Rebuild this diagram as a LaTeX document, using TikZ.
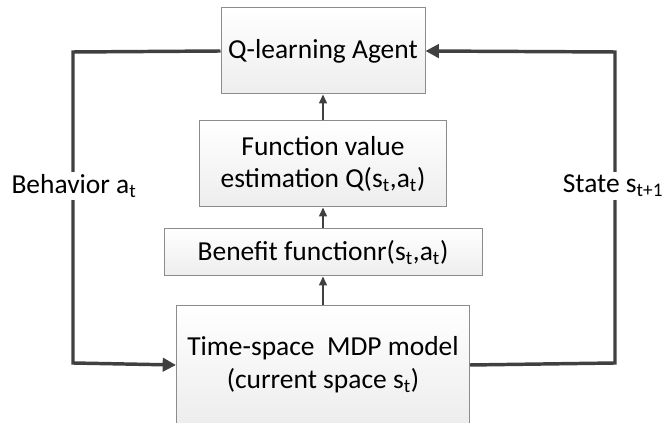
\documentclass[tikz,border=0pt]{standalone}
\usepackage{fontspec}
\setmainfont{Carlito}
\usetikzlibrary{arrows.meta, positioning}

\definecolor{linegray}{HTML}{404040}
\definecolor{boxgray}{HTML}{8C8C8C}

\begin{document}
\begin{tikzpicture}[
  x=0.75pt, y=-0.75pt,
  font=\fontsize{20.6}{24.5}\selectfont,
  block/.style={draw=boxgray, line width=0.75pt, top color=white, bottom color=black!7,
    align=center, inner sep=0pt},
  flow/.style={draw=linegray, line width=1.1pt, -{Triangle[length=6.75pt,width=6pt]}},
  loop/.style={draw=linegray, line width=2.6pt, -{Triangle[length=10pt,width=10pt]}},
  tag/.style={fill=white, inner sep=2pt}]

  \useasboundingbox (0,0) rectangle (662,423);

  % boxes, stacked from the top
  \node[block, minimum width=153pt, minimum height=64.5pt] (agent) at (323,51) {Q-learning Agent};
  \node[block, minimum width=185.25pt, minimum height=64.5pt, below=19.5pt of agent] (estim)
    {Function value\\estimation Q(s\textsubscript{t},a\textsubscript{t})};
  \node[block, minimum width=238.5pt, minimum height=35.25pt, below=15.75pt of estim] (benefit)
    {Benefit functionr(s\textsubscript{t},a\textsubscript{t})};
  \node[block, minimum width=219.75pt, minimum height=88.5pt, below=21.75pt of benefit] (mdp)
    {Time-space~ MDP model\\(current space s\textsubscript{t})};

  % corners of the two loops
  \coordinate (lt) at (73,52);
  \coordinate (lb) at (73,363);
  \coordinate (rt) at (615,52);
  \coordinate (rb) at (615,363);

  \draw[flow] (mdp) -- (benefit);
  \draw[flow] (benefit) -- (estim);
  \draw[flow] (estim) -- (agent);

  \draw[loop] (agent.west) -- (lt) -- (lb) -- (mdp.west);
  \draw[loop] (mdp.east) -- (rb) -- (rt) -- (agent.east);

  \node[tag] (behav) at (74,186) {Behavior a\textsubscript{t}};
  \node[tag] (state) at (613,186) {State s\textsubscript{t+1}};
\end{tikzpicture}
\end{document}
